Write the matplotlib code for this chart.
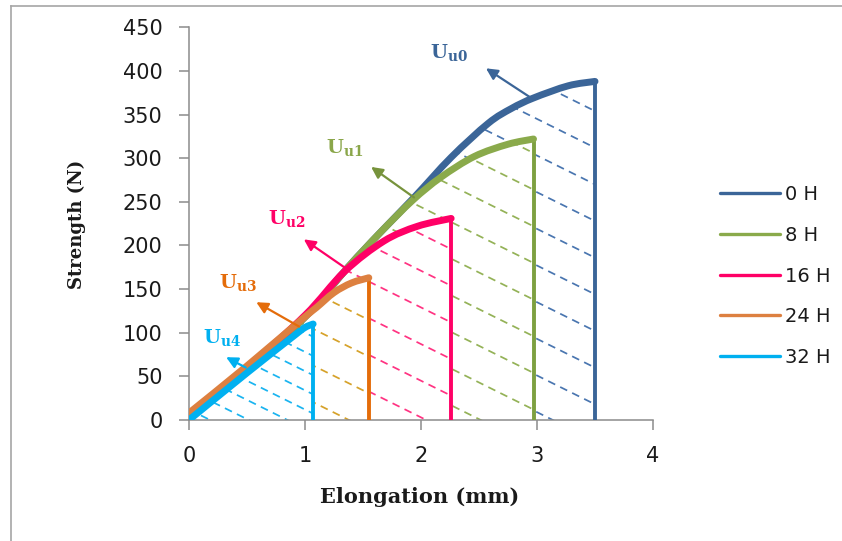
import matplotlib
matplotlib.use("Agg")
import matplotlib.pyplot as plt
from matplotlib.patches import PathPatch
from matplotlib.path import Path
from matplotlib.lines import Line2D
import numpy as np

# ---------------- data ----------------
series_names = ["0 H", "8 H", "16 H", "24 H", "32 H"]

x_0h = [0, 0.5, 1.0, 1.37, 1.65, 1.94, 2.26, 2.58, 2.78, 2.97, 3.27, 3.5]
y_0h = [5, 58, 118, 175, 215, 255, 301, 340, 357, 369, 383, 388]

x_8h = [0, 0.5, 1.0, 1.37, 1.65, 1.93, 2.17, 2.46, 2.75, 2.97]
y_8h = [5, 58, 118, 175, 215, 252, 278, 302, 316, 322]

x_16h = [0, 0.5, 1.0, 1.34, 1.68, 1.97, 2.26]
y_16h = [5, 60, 120, 170, 205, 222, 231]

x_24h = [0, 0.5, 0.97, 1.1, 1.25, 1.4, 1.55]
y_24h = [8, 62, 115, 129, 146, 157, 163]

x_32h = [0, 0.5, 0.9, 1.0, 1.07]
y_32h = [0, 54, 96, 106, 110]

energy_labels = ["u0", "u1", "u2", "u3", "u4"]

x_ticks = [0, 1, 2, 3, 4]
y_ticks = [0, 50, 100, 150, 200, 250, 300, 350, 400, 450]

# ---------------- style ----------------
curve_colors = ["#3B6598", "#8AAA4B", "#FF0066", "#DD8040", "#00B0F0"]
vert_colors = ["#3B6598", "#7DA040", "#FF0066", "#E46C0A", "#00B0F0"]
hatch_colors = ["#4A76B0", "#94B257", "#FF3382", "#D6A22A", "#1AB4F0"]
label_colors = ["#3B6598", "#8AA64A", "#FF0066", "#E46C0A", "#00B0F0"]
arrow_colors = ["#3B6598", "#77933C", "#FF0066", "#E46C0A", "#00B0F0"]
hatch_offsets = [39, 40, 9, 7, 12]
hatch_spacing = [42, 42, 42, 42, 22]
hatch_slope = 66.0

arrow_pos = [((2.95, 369), (2.56, 403)),
             ((1.94, 255), (1.57, 290)),
             ((1.35, 174), (0.99, 207)),
             ((0.95, 107), (0.58, 135)),
             ((0.49, 60), (0.32, 72))]
label_pos = [(2.24, 421), (1.34, 312), (0.84, 231), (0.42, 157), (0.28, 94)]

plt.rcParams['mathtext.fontset'] = 'dejavuserif'


def smooth_segments(xx, yy):
    """Bezier (Excel-like smoothed line) vertices/codes through the points."""
    p = np.column_stack([xx, yy]).astype(float)
    n = len(p)
    verts = [tuple(p[0])]
    codes = [Path.MOVETO]
    for k in range(n - 1):
        p0 = p[k - 1] if k > 0 else p[k]
        p1 = p[k]
        p2 = p[k + 1]
        p3 = p[k + 2] if k + 2 < n else p[k + 1]
        c1 = p1 + (p2 - p0) / 6.0
        c2 = p2 - (p3 - p1) / 6.0
        verts += [tuple(c1), tuple(c2), tuple(p2)]
        codes += [Path.CURVE4] * 3
    return verts, codes


fig = plt.figure(figsize=(8.42, 5.41), dpi=100)
ax = fig.add_axes([189 / 842, 1 - 420 / 541, 464 / 842, (420 - 27.3) / 541])

xs = [x_0h, x_8h, x_16h, x_24h, x_32h]
ys = [y_0h, y_8h, y_16h, y_24h, y_32h]

for i, (xx, yy) in enumerate(zip(xs, ys)):
    verts, codes = smooth_segments(xx, yy)
    # region under curve (largest first; each smaller one covers the previous)
    rv = [(0, 0)] + [verts[0]] + verts[1:] + [(xx[-1], 0), (0, 0)]
    rc = [Path.MOVETO, Path.LINETO] + codes[1:] + [Path.LINETO, Path.CLOSEPOLY]
    region = PathPatch(Path(rv, rc), facecolor="white", edgecolor="none",
                       zorder=1 + i * 0.2)
    ax.add_patch(region)
    sp = hatch_spacing[i]
    c = hatch_offsets[i]
    cs = np.arange(c - 10 * sp, 460 + hatch_slope * 4 + sp, sp)
    for cc in cs:
        ln, = ax.plot([0, 4], [cc, cc - hatch_slope * 4], color=hatch_colors[i],
                      lw=1.25, dashes=(4.5, 3.2), zorder=1.1 + i * 0.2)
        ln.set_clip_path(region)

    # vertical drop line
    ax.plot([xx[-1], xx[-1]], [0, yy[-1]], color=vert_colors[i], lw=2.8,
            solid_capstyle="butt", zorder=3 + i * 0.1)

    # smoothed curve
    curve = PathPatch(Path(verts, codes), facecolor="none", edgecolor=curve_colors[i],
                      lw=5.0, capstyle="round", joinstyle="round", zorder=4 + i * 0.2)
    ax.add_patch(curve)

# arrows and labels
for i in range(5):
    (tx, ty), (hx, hy) = arrow_pos[i]
    ax.annotate("", xy=(hx, hy), xytext=(tx, ty),
                arrowprops=dict(arrowstyle="-|>", color=arrow_colors[i], lw=1.6,
                                mutation_scale=17, shrinkA=0, shrinkB=0),
                zorder=6)
    lx, ly = label_pos[i]
    ax.text(lx, ly, r"$\mathbf{U_{%s}}$" % energy_labels[i], color=label_colors[i],
            fontsize=14, ha="center", va="center", zorder=7)

ax.set_xlim(0, 4)
ax.set_ylim(0, 450)
ax.set_xticks(x_ticks)
ax.set_yticks(y_ticks)
for s in ["top", "right"]:
    ax.spines[s].set_visible(False)
for s in ["left", "bottom"]:
    ax.spines[s].set_color("#8C8C8C")
    ax.spines[s].set_linewidth(1.1)
ax.tick_params(axis="both", direction="out", length=7, width=1.1, color="#8C8C8C",
               labelsize=15, labelcolor="#1A1A1A", pad=12)
for lab in ax.get_xticklabels() + ax.get_yticklabels():
    lab.set_fontfamily("DejaVu Sans")

fig.text(420 / 842, 1 - 497 / 541, "Elongation (mm)", fontsize=15, fontweight="bold",
         family="DejaVu Serif", ha="center", va="center", color="#1A1A1A")
fig.text(77 / 842, 1 - 224 / 541, "Strength (N)", fontsize=13, fontweight="bold",
         family="DejaVu Serif", ha="center", va="center", rotation=90, color="#1A1A1A")

handles = [Line2D([], [], color=curve_colors[i], lw=2.4, solid_capstyle="round")
           for i in range(5)]
fig.legend(handles, series_names, loc="center left", bbox_to_anchor=(720 / 842, 1 - 276 / 541),
           frameon=False, prop={"family": "DejaVu Sans", "size": 14},
           handlelength=3.1, handletextpad=0.25, labelspacing=1.12,
           borderpad=0, borderaxespad=0, labelcolor="#1A1A1A")

# outer frame
fig.add_artist(Line2D([11 / 842, 11 / 842], [0, 1 - 5.5 / 541], transform=fig.transFigure,
                      color="#A6A6A6", lw=1.2))
fig.add_artist(Line2D([11 / 842, 1], [1 - 5.5 / 541, 1 - 5.5 / 541], transform=fig.transFigure,
                      color="#A6A6A6", lw=1.2))

fig.savefig("out.png", dpi=100, facecolor="white")
